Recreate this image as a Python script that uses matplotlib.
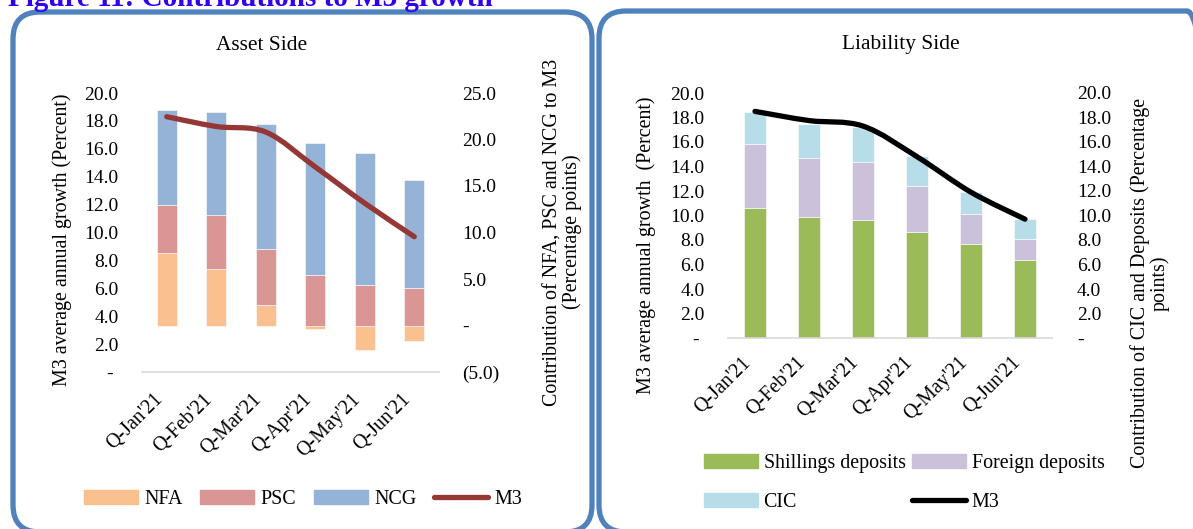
import matplotlib
matplotlib.use("Agg")
import matplotlib.pyplot as plt
import numpy as np
from matplotlib.patches import Patch, FancyBboxPatch, PathPatch
from matplotlib.lines import Line2D
from matplotlib.path import Path
from matplotlib.transforms import IdentityTransform

plt.rcParams['font.family'] = ['Liberation Serif', 'DejaVu Serif']

# ---------------- data ----------------
quarters = ["Q-Jan'21", "Q-Feb'21", "Q-Mar'21", "Q-Apr'21", "Q-May'21", "Q-Jun'21"]

# Asset side (contributions, percentage points) - right axis
nfa = [7.8, 6.1, 2.2, -0.35, -2.6, -1.7]
psc = [5.2, 5.8, 6.0, 5.4, 4.4, 4.0]
ncg = [10.2, 11.1, 13.5, 14.2, 14.1, 11.6]
m3_asset = [18.3, 17.6, 17.2, 14.7, 12.1, 9.7]   # left axis, percent

# Liability side
shillings = [10.6, 9.85, 9.6, 8.65, 7.7, 6.35]
foreign = [5.2, 4.85, 4.75, 3.75, 2.45, 1.75]
cic = [2.65, 2.8, 2.85, 2.45, 1.8, 1.6]
m3_liab = [18.5, 17.75, 17.3, 14.8, 11.9, 9.7]

asset_left_ticks = [0, 2, 4, 6, 8, 10, 12, 14, 16, 18, 20]
asset_right_ticks = [-5, 0, 5, 10, 15, 20, 25]
liab_ticks = [0, 2, 4, 6, 8, 10, 12, 14, 16, 18, 20]

# ---------------- style ----------------
C_NFA, C_PSC, C_NCG, C_M3A = "#FAC090", "#D99694", "#95B3D7", "#953735"
C_SH, C_FO, C_CIC = "#9BBB59", "#CCC1DA", "#B7DEE8"
BORDER = "#4F81BD"
FS_TICK = 14
FS_LAB = 14.4
FS_X = 14.3
W, H = 1193, 529

fig = plt.figure(figsize=(W / 100, H / 100), dpi=100)


def fx(px):
    return px / W


def fy(py):
    return 1 - py / H


def rect(x0, y0, x1, y1):
    return [fx(x0), fy(y1), fx(x1) - fx(x0), fy(y0) - fy(y1)]


def fmt(v):
    if v == 0:
        return "-"
    if v < 0:
        return "(%.1f)" % abs(v)
    return "%.1f" % v


def smooth_path(xs, ys):
    xs = np.asarray(xs, float)
    ys = np.asarray(ys, float)
    P = np.column_stack([xs, ys])
    n = len(P)
    verts = [P[0]]
    codes = [Path.MOVETO]
    for i in range(n - 1):
        p0 = P[i - 1] if i > 0 else P[i]
        p1, p2 = P[i], P[i + 1]
        p3 = P[i + 2] if i + 2 < n else P[i + 1]
        c1 = p1 + (p2 - p0) / 6.0
        c2 = p2 - (p3 - p1) / 6.0
        verts += [c1, c2, p2]
        codes += [Path.CURVE4] * 3
    return Path(verts, codes)


# ---------------- panel borders (pixel coordinates) ----------------
for (x0, y0, x1, y1) in [(13, 12, 592, 532), (599, 11, 1214, 532)]:
    fig.patches.append(FancyBboxPatch((x0, H - y1), x1 - x0, y1 - y0,
                                      boxstyle="round,pad=0,rounding_size=27",
                                      transform=IdentityTransform(), fill=False,
                                      edgecolor=BORDER, linewidth=3.8, zorder=0))

fig.text(fx(8), fy(6), "Figure 11: Contributions to M3 growth", color="#3300EE",
         fontsize=21, fontweight="bold", va="baseline", ha="left")

# ---------------- Asset side ----------------
x = np.arange(len(quarters))
bw = 0.4
axb = fig.add_axes(rect(142, 93, 439, 372))
axl = fig.add_axes(rect(142, 93, 439, 372), sharex=axb)
axl.set_facecolor("none")

pos_base = np.zeros(len(x))
neg_base = np.zeros(len(x))
for vals, col in [(nfa, C_NFA), (psc, C_PSC), (ncg, C_NCG)]:
    vals = np.asarray(vals)
    bottoms = np.where(vals >= 0, pos_base, neg_base)
    axb.bar(x, vals, bw, bottom=bottoms, color=col, edgecolor="white", linewidth=0.4)
    pos_base = pos_base + np.where(vals >= 0, vals, 0)
    neg_base = neg_base + np.where(vals < 0, vals, 0)

axb.set_ylim(-5, 25)
axb.set_xlim(-0.5, len(x) - 0.5)
axb.yaxis.tick_right()
axb.set_yticks(asset_right_ticks)
axb.set_yticklabels([fmt(v) for v in asset_right_ticks])
for lab in axb.get_yticklabels():
    lab.set_horizontalalignment("left")

axl.add_patch(PathPatch(smooth_path(x, m3_asset), fill=False, edgecolor=C_M3A,
                        linewidth=3.8, capstyle="round", joinstyle="round"))
axl.set_ylim(0, 20)
axl.set_yticks(asset_left_ticks)
axl.set_yticklabels([fmt(v) + (" " if v == 0 else "") for v in asset_left_ticks])
axl.tick_params(axis="y", labelsize=FS_TICK, length=0, pad=17)
axl.tick_params(axis="x", bottom=False, labelbottom=False)
axb.tick_params(axis="y", labelsize=FS_TICK, length=0, pad=17)
axb.set_xticks(x)
axb.set_xticklabels(quarters, rotation=45, ha="right", fontsize=FS_X)
axb.tick_params(axis="x", length=0, pad=13)

for a in (axb, axl):
    for s in a.spines.values():
        s.set_visible(False)
axb.spines["bottom"].set_visible(True)
axb.spines["bottom"].set_color("#D9D9D9")
axb.spines["bottom"].set_linewidth(1.2)

fig.text(fx(262), fy(46), "Asset Side", ha="center", va="center", fontsize=15.4)
fig.text(fx(62), fy(240), "M3 average annual growth (Percent)", rotation=90,
         ha="center", va="center", fontsize=FS_LAB)
fig.text(fx(563), fy(232), "Contribution of NFA, PSC and NCG to M3\n(Percentage points)",
         rotation=90, ha="center", va="center", fontsize=FS_LAB, multialignment="center",
         linespacing=1.0)

h_asset = [Patch(color=C_NFA, label="NFA"), Patch(color=C_PSC, label="PSC"),
           Patch(color=C_NCG, label="NCG"),
           Line2D([], [], color=C_M3A, lw=3.8, solid_capstyle="round", label="M3")]
fig.legend(handles=h_asset, loc="center", bbox_to_anchor=(fx(303), fy(499)), ncol=4,
           frameon=False, fontsize=FS_LAB, handlelength=2.7, handletextpad=0.3,
           columnspacing=0.9)

# ---------------- Liability side ----------------
ax2 = fig.add_axes(rect(728, 93, 1052, 338))
ax2r = ax2.twinx()
base = np.zeros(len(x))
for vals, col in [(shillings, C_SH), (foreign, C_FO), (cic, C_CIC)]:
    ax2.bar(x, vals, 0.41, bottom=base, color=col, edgecolor="white", linewidth=0.4)
    base = base + np.asarray(vals)
ax2.add_patch(PathPatch(smooth_path(x, m3_liab), fill=False, edgecolor="black",
                        linewidth=3.8, capstyle="round", joinstyle="round", zorder=5))
ax2.set_xlim(-0.5, len(x) - 0.5)
ax2.set_ylim(0, 20)
ax2r.set_ylim(0, 20)
ax2.set_yticks(liab_ticks)
ax2.set_yticklabels([fmt(v) + (" " if v == 0 else "") for v in liab_ticks])
ax2r.set_yticks(liab_ticks)
ax2r.set_yticklabels([fmt(v) for v in liab_ticks])
for lab in ax2r.get_yticklabels():
    lab.set_horizontalalignment("left")
ax2.tick_params(axis="y", labelsize=FS_TICK, length=0, pad=17)
ax2r.tick_params(axis="y", labelsize=FS_TICK, length=0, pad=18)
ax2.set_xticks(x)
ax2.set_xticklabels(quarters, rotation=45, ha="right", fontsize=FS_X)
ax2.tick_params(axis="x", length=0, pad=11)
for a in (ax2, ax2r):
    for s in a.spines.values():
        s.set_visible(False)
ax2.spines["bottom"].set_visible(True)
ax2.spines["bottom"].set_color("#D9D9D9")
ax2.spines["bottom"].set_linewidth(1.2)

fig.text(fx(901), fy(45), "Liability Side", ha="center", va="center", fontsize=15.4)
fig.text(fx(646), fy(245), "M3 average annual growth  (Percent)", rotation=90,
         ha="center", va="center", fontsize=FS_LAB)
fig.text(fx(1150), fy(283), "Contribution of CIC and Deposits (Percentage\npoints)",
         rotation=90, ha="center", va="center", fontsize=FS_LAB, multialignment="center",
         linespacing=1.0)

h_liab = [Patch(color=C_SH, label="Shillings deposits"), Patch(color=C_CIC, label="CIC"),
          Patch(color=C_FO, label="Foreign deposits"),
          Line2D([], [], color="black", lw=3.8, solid_capstyle="round", label="M3")]
fig.legend(handles=h_liab, loc="center", bbox_to_anchor=(fx(904), fy(483)), ncol=2,
           frameon=False, fontsize=FS_LAB, handlelength=2.7, handletextpad=0.3,
           columnspacing=0.3, labelspacing=1.0)

fig.savefig("out.png", dpi=100)
